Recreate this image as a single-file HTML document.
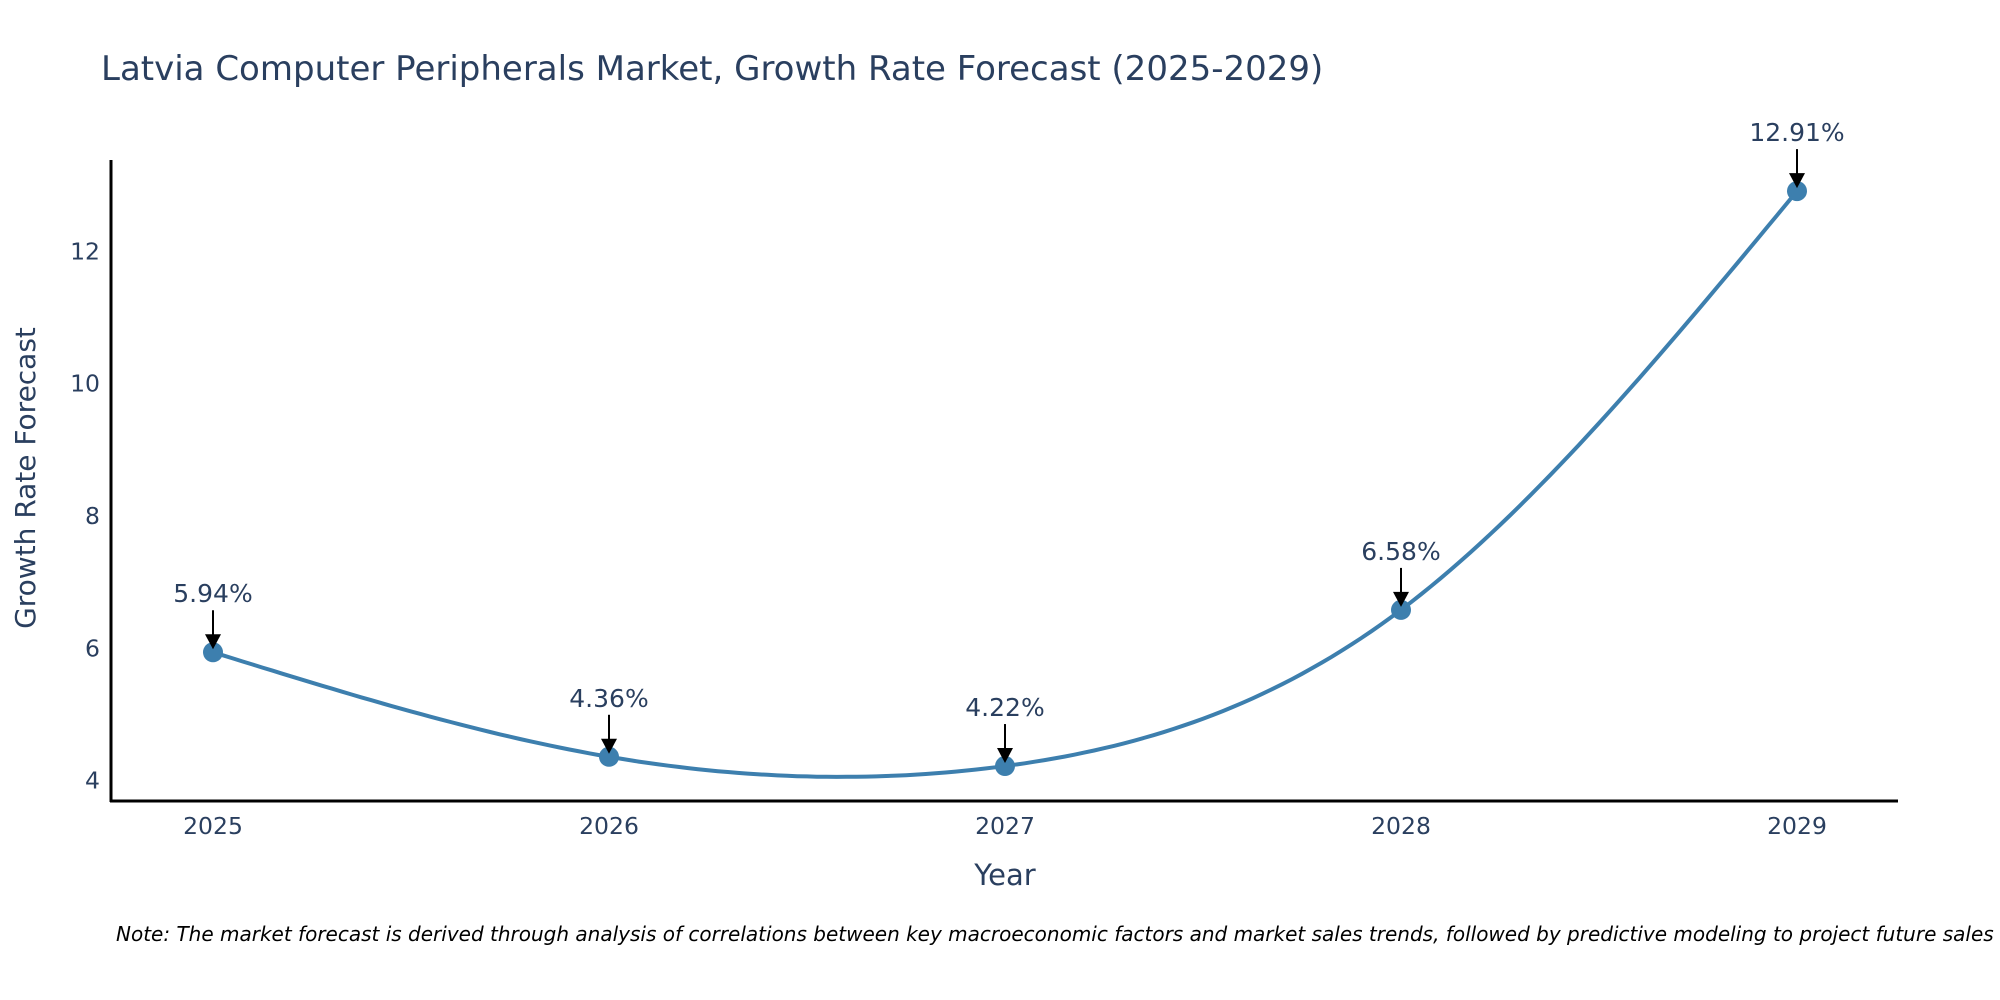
<!DOCTYPE html>
<html><head><meta charset="utf-8"><style>
body{margin:0;background:#fff;}
svg{display:block;font-family:"DejaVu Sans","Liberation Sans",sans-serif;}
</style></head><body>
<svg width="2000" height="1000" viewBox="0 0 2000 1000">
<text x="101" y="80" font-size="34" fill="#2a3f5f">Latvia Computer Peripherals Market, Growth Rate Forecast (2025-2029)</text>
<g id="yticks"></g><g id="xticks"></g>
<line x1="111" y1="160" x2="111" y2="802" stroke="#000" stroke-width="3"/>
<line x1="110" y1="801" x2="1898" y2="801" stroke="#000" stroke-width="3"/>
<path id="line" fill="none" stroke="#3d7fae" stroke-width="4"/>
<g id="marks"></g>
<text x="1005" y="885" font-size="29" fill="#2a3f5f" text-anchor="middle">Year</text>
<text transform="translate(35,478) rotate(-90)" font-size="28" fill="#2a3f5f" text-anchor="middle">Growth Rate Forecast</text>
<text x="116" y="941" font-size="20" font-style="italic" fill="#000">Note: The market forecast is derived through analysis of correlations between key macroeconomic factors and market sales trends, followed by predictive modeling to project future sales</text>
</svg>
<script>
const years=["2025","2026","2027","2028","2029"];
const values=[5.94,4.36,4.22,6.58,12.91];
const labels=["5.94%","4.36%","4.22%","6.58%","12.91%"];
const yTicks=[4,6,8,10,12];
const NS="http://www.w3.org/2000/svg";
const xs=i=>213+i*396;
const ys=v=>780.6-(v-4)*66.16;
function mk(tag,attrs,parent,txt){const e=document.createElementNS(NS,tag);for(const k in attrs)e.setAttribute(k,attrs[k]);if(txt!==undefined)e.textContent=txt;parent.appendChild(e);return e;}
const yt=document.getElementById('yticks');
yTicks.forEach(t=>{const e=mk('text',{x:100,y:ys(t)+8,'font-size':23.5,fill:'#2a3f5f','text-anchor':'end'},yt,String(t));

});
const xt=document.getElementById('xticks');
years.forEach((y,i)=>{const e=mk('text',{x:xs(i),y:834,'font-size':23.5,fill:'#2a3f5f','text-anchor':'middle'},xt,y);

});
const n=values.length;const M=new Array(n).fill(0);
{const a=[],b=[],c=[],r=[];for(let i=1;i<n-1;i++){a.push(1);b.push(4);c.push(1);r.push(6*(values[i+1]-2*values[i]+values[i-1]));}
const m=r.length;for(let i=1;i<m;i++){const w=a[i]/b[i-1];b[i]-=w*c[i-1];r[i]-=w*r[i-1];}
const sol=new Array(m);for(let i=m-1;i>=0;i--){sol[i]=(r[i]-(i<m-1?c[i]*sol[i+1]:0))/b[i];}
for(let i=0;i<m;i++)M[i+1]=sol[i];}
let d='';
for(let i=0;i<n-1;i++){for(let k=0;k<=40;k++){const t=k/40;if(i>0&&k===0)continue;
const v=(1-t)*values[i]+t*values[i+1]+((Math.pow(1-t,3)-(1-t))*M[i]+(Math.pow(t,3)-t)*M[i+1])/6;
d+=(d?' L':'M')+(xs(i)+t*396).toFixed(1)+','+ys(v).toFixed(1);}}
document.getElementById('line').setAttribute('d',d);
const g=document.getElementById('marks');
values.forEach((v,i)=>{const x=xs(i),y=ys(v);
const c=mk('circle',{cx:x,cy:y,r:10,fill:'#3d7fae'},g);


const a=mk('line',{x1:x,y1:y-42,x2:x,y2:y-16,stroke:'#000','stroke-width':2},g);


const h=mk('polygon',{points:`${x-8},${y-18} ${x+8},${y-18} ${x},${y-3}`,fill:'#000'},g);


const t=mk('text',{x:x,y:y-50,'font-size':25,fill:'#2a3f5f','text-anchor':'middle'},g,labels[i]);

});
</script>
</body></html>
